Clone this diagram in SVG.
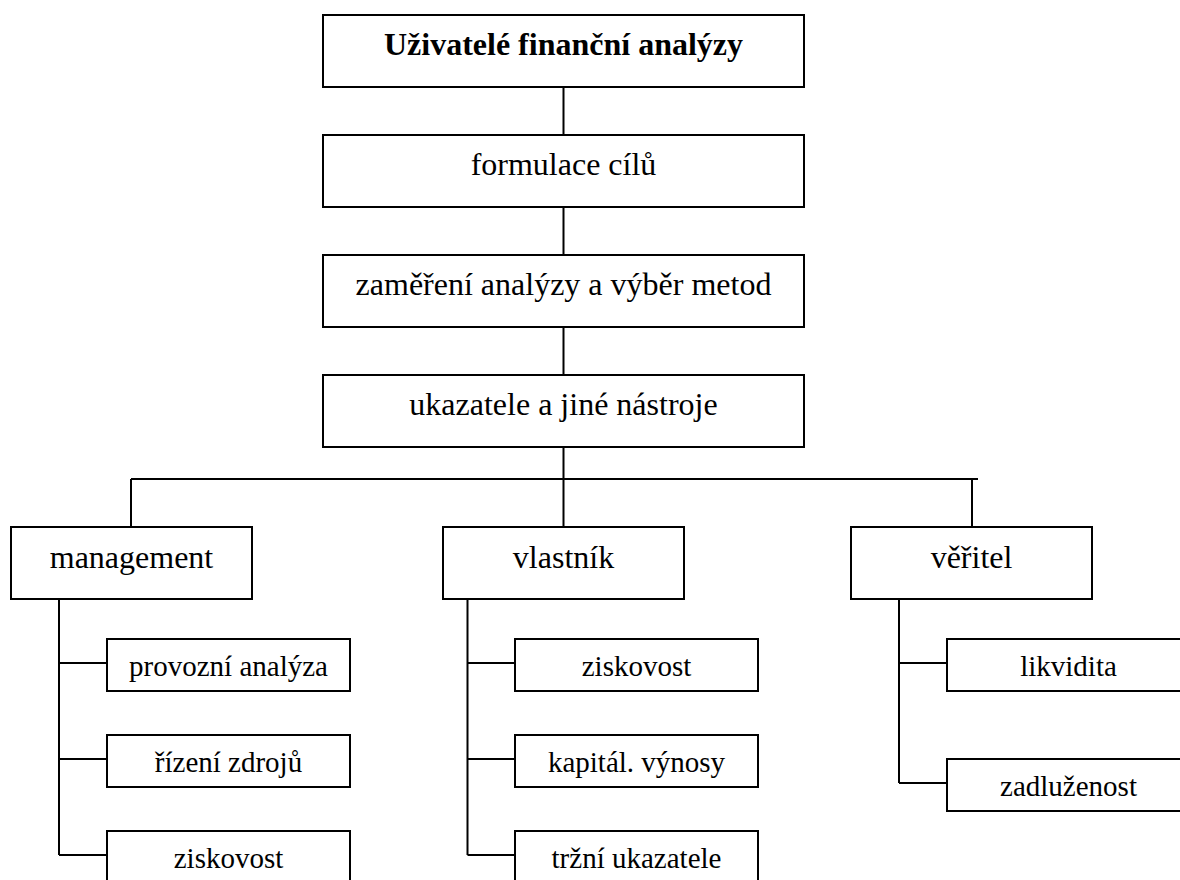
<svg xmlns="http://www.w3.org/2000/svg" width="1180" height="880" viewBox="0 0 1180 880">
<style>
.b{fill:#fff;stroke:#000;stroke-width:2}
.c{fill:none;stroke:#000;stroke-width:2}
text{font-family:'Liberation Serif','Times New Roman',Times,'DejaVu Serif',serif;fill:#000;text-anchor:middle}
.t{font-size:32px}
.tb{font-size:32px;font-weight:bold}
.s{font-size:29px}
</style>
<rect width="1180" height="880" fill="#fff"/>
<g id="connectors">
<path class="c" d="M563.5 87V135M563.5 207V255M563.5 327V375M563.5 447V527M131 479H978M131 479V527M972 479V527"/>
<path class="c" d="M59 599V855M59 663H107M59 759H107M59 855H107"/>
<path class="c" d="M467.5 599V855M467.5 663H515M467.5 759H515M467.5 855H515"/>
<path class="c" d="M899 599V783M899 663H947M899 783H947"/>
</g>
<g id="n-uzivatele"><rect class="b" x="323" y="15" width="481" height="72"/><text class="tb" x="563.5" y="55" font-family="Liberation Serif, DejaVu Serif, serif">Uživatelé finanční analýzy</text></g>
<g id="n-formulace"><rect class="b" x="323" y="135" width="481" height="72"/><text class="t" x="563.5" y="175" font-family="Liberation Serif, DejaVu Serif, serif">formulace cílů</text></g>
<g id="n-zamereni"><rect class="b" x="323" y="255" width="481" height="72"/><text class="t" x="563.5" y="295" font-family="Liberation Serif, DejaVu Serif, serif">zaměření analýzy a výběr metod</text></g>
<g id="n-ukazatele"><rect class="b" x="323" y="375" width="481" height="72"/><text class="t" x="563.5" y="415" font-family="Liberation Serif, DejaVu Serif, serif">ukazatele a jiné nástroje</text></g>
<g id="n-management"><rect class="b" x="11" y="527" width="241" height="72"/><text class="t" x="131.5" y="568" font-family="Liberation Serif, DejaVu Serif, serif">management</text></g>
<g id="n-vlastnik"><rect class="b" x="443" y="527" width="241" height="72"/><text class="t" x="563.5" y="568" font-family="Liberation Serif, DejaVu Serif, serif">vlastník</text></g>
<g id="n-veritel"><rect class="b" x="851" y="527" width="241" height="72"/><text class="t" x="971.5" y="568" font-family="Liberation Serif, DejaVu Serif, serif">věřitel</text></g>
<g id="n-provozni"><rect class="b" x="107" y="639" width="243" height="52"/><text class="s" x="228.5" y="676" font-family="Liberation Serif, DejaVu Serif, serif">provozní analýza</text></g>
<g id="n-rizeni"><rect class="b" x="107" y="735" width="243" height="52"/><text class="s" x="228.5" y="772" font-family="Liberation Serif, DejaVu Serif, serif">řízení zdrojů</text></g>
<g id="n-ziskovost-m"><rect class="b" x="107" y="831" width="243" height="60"/><text class="s" x="228.5" y="868" font-family="Liberation Serif, DejaVu Serif, serif">ziskovost</text></g>
<g id="n-ziskovost-v"><rect class="b" x="515" y="639" width="243" height="52"/><text class="s" x="636.5" y="676" font-family="Liberation Serif, DejaVu Serif, serif">ziskovost</text></g>
<g id="n-kapital"><rect class="b" x="515" y="735" width="243" height="52"/><text class="s" x="636.5" y="772" font-family="Liberation Serif, DejaVu Serif, serif">kapitál. výnosy</text></g>
<g id="n-trzni"><rect class="b" x="515" y="831" width="243" height="60"/><text class="s" x="636.5" y="868" font-family="Liberation Serif, DejaVu Serif, serif">tržní ukazatele</text></g>
<g id="n-likvidita"><rect class="b" x="947" y="639" width="243" height="52"/><text class="s" x="1068.5" y="676" font-family="Liberation Serif, DejaVu Serif, serif">likvidita</text></g>
<g id="n-zadluzenost"><rect class="b" x="947" y="759" width="243" height="52"/><text class="s" x="1068.5" y="796" font-family="Liberation Serif, DejaVu Serif, serif">zadluženost</text></g>
</svg>
